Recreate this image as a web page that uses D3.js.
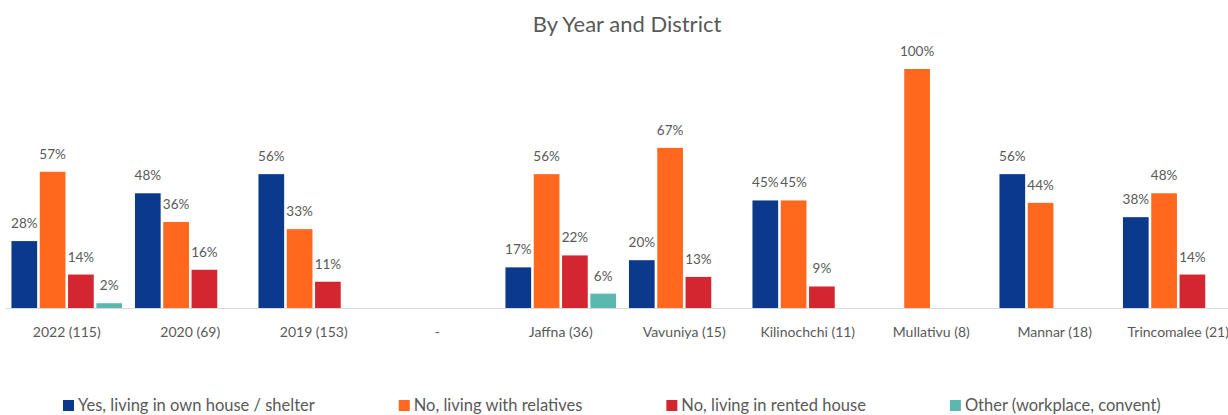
<!DOCTYPE html>
<html>
<head>
<meta charset="utf-8">
<script src="https://cdn.jsdelivr.net/npm/d3@7"></script>
<style>
  body { margin: 0; background: #fff; }
</style>
</head>
<body>
<script>
const categories = ['2022 (115)', '2020 (69)', '2019 (153)', '-', 'Jaffna (36)', 'Vavuniya (15)',
  'Kilinochchi (11)', 'Mullativu (8)', 'Mannar (18)', 'Trincomalee (21)']
const seriesNames = ['Yes, living in own house / shelter', 'No, living with relatives',
  'No, living in rented house', 'Other (workplace, convent)']
const ownHouse = [28, 48, 56, null, 17, 20, 45, null, 56, 38]
const relatives = [57, 36, 33, null, 56, 67, 45, 100, 44, 48]
const rented = [14, 16, 11, null, 22, 13, 9, null, null, 14]
const other = [2, null, null, null, 6, null, null, null, null, null]
const colors = ['#0b3a8c', '#ff681d', '#d32631', '#5bb8ae']

const W = 1228
const H = 415
const textGrey = '#595959'

const series = [ownHouse, relatives, rented, other]
const rows = categories.map((c, i) => ({
  cat: c,
  vals: series.map((s, k) => ({ key: k, v: s[i] }))
}))

const svg = d3.select('body').append('svg')
  .attr('width', W)
  .attr('height', H)
  .style('font-family', 'Lato, sans-serif')

const x0 = d3.scaleBand().domain(categories).range([5, 1240])
const x1 = d3.scaleBand().domain(d3.range(4)).range([0, x0.bandwidth()])
  .paddingInner(0.092).paddingOuter(0.228)
const y = d3.scaleLinear().domain([0, 100]).range([308, 69])

svg.append('text')
  .text('By Year and District')
  .attr('x', 627)
  .attr('y', 32)
  .style('text-anchor', 'middle')
  .style('font-size', '22px')
  .style('fill', textGrey)

// axis
svg.append('g')
  .attr('transform', `translate(0,${y(0)})`)
  .call(d3.axisBottom(x0).tickSize(0).tickPadding(19))
  .call(g => g.select('.domain').attr('stroke', '#d9d9d9').attr('stroke-width', 1.2))
  .selectAll('text')
  .style('font-family', 'Lato, sans-serif')
  .style('font-size', '14px')
  .attr('fill', textGrey)

const groups = svg.append('g')
  .selectAll('g')
  .data(rows)
  .enter().append('g')
  .attr('transform', d => `translate(${x0(d.cat)},0)`)

groups.selectAll('rect')
  .data(d => d.vals.filter(v => v.v != null))
  .enter().append('rect')
  .attr('x', d => x1(d.key))
  .attr('y', d => y(d.v))
  .attr('width', x1.bandwidth())
  .attr('height', d => y(0) - y(d.v))
  .attr('fill', d => colors[d.key])

groups.selectAll('text')
  .data(d => d.vals.filter(v => v.v != null))
  .enter().append('text')
  .text(d => d.v + '%')
  .attr('x', d => x1(d.key) + x1.bandwidth() / 2)
  .attr('y', d => y(d.v) - 13)
  .style('text-anchor', 'middle')
  .style('font-size', '13.5px')
  .style('fill', textGrey)

// legend, laid out like Excel: swatch + text + fixed gap
const legend = svg.append('g').attr('class', 'legend')
let lx = 63
seriesNames.forEach((name, i) => {
  legend.append('rect')
    .attr('x', lx)
    .attr('y', 400)
    .attr('width', 11)
    .attr('height', 11)
    .attr('fill', colors[i])
  const t = legend.append('text')
    .text(name)
    .attr('x', lx + 15)
    .attr('y', 411)
    .style('font-size', '16.5px')
    .style('fill', textGrey)
  lx += 15 + t.node().getComputedTextLength() + 84
})
</script>
</body>
</html>
